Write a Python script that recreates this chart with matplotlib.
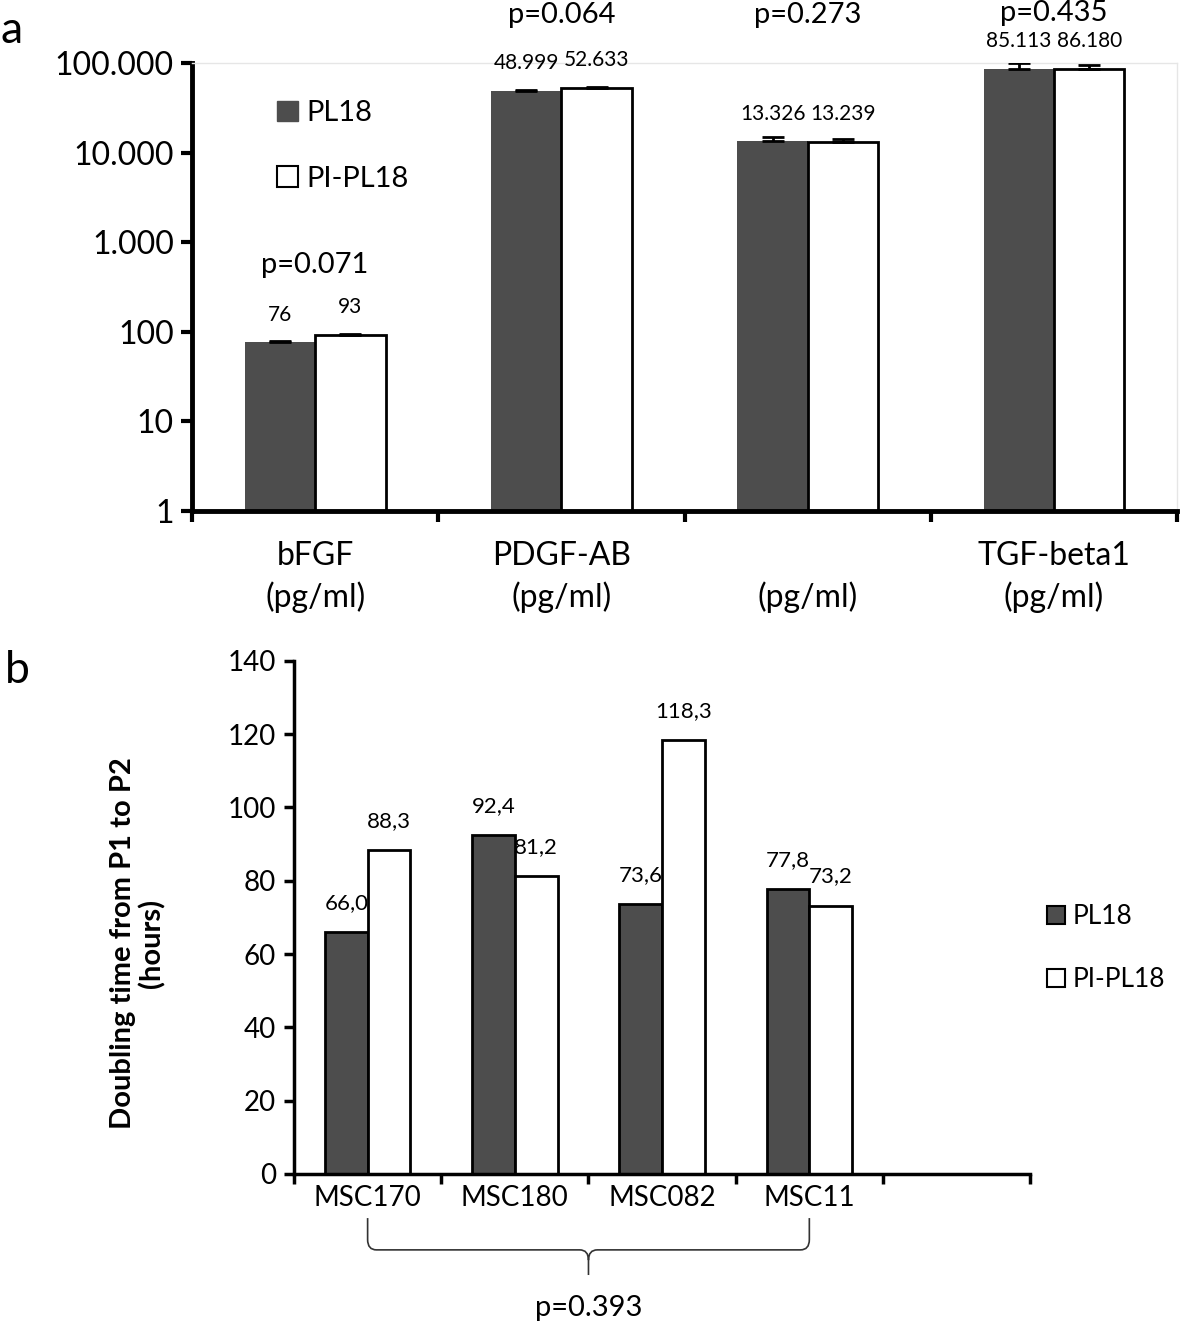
import matplotlib
matplotlib.use("Agg")
import matplotlib.pyplot as plt
from matplotlib.patches import Patch, PathPatch
from matplotlib.path import Path
import matplotlib.transforms as mtransforms
import numpy as np

plt.rcParams['font.family'] = ['Lato', 'DejaVu Sans']

# panel a data
factors = ["bFGF\n(pg/ml)", "PDGF-AB\n(pg/ml)", "\n(pg/ml)", "TGF-beta1\n(pg/ml)"]
pl18 = [76, 48999, 13326, 85113]
pipl18 = [93, 52633, 13239, 86180]
pl18_err = [3, 1500, 1500, 15000]
pipl18_err = [2, 1000, 900, 8000]
pl18_lbl = ["76", "48.999", "13.326", "85.113"]
pipl18_lbl = ["93", "52.633", "13.239", "86.180"]
pvals_a = ["p=0.071", "p=0.064", "p=0.273", "p=0.435"]
pval_a_y = [560, 340000, 340000, 360000]
ytick_a = [1, 10, 100, 1000, 10000, 100000]
ytick_a_lbl = ["1", "10", "100", "1.000", "10.000", "100.000"]

# panel b data
cells = ["MSC170", "MSC180", "MSC082", "MSC11", ""]
dt_pl18 = [66.0, 92.4, 73.6, 77.8]
dt_pipl18 = [88.3, 81.2, 118.3, 73.2]
pval_b = "p=0.393"

dark = "#4d4d4d"

fig = plt.figure(figsize=(12, 13.25), dpi=100)

# ---- panel a ----
ax = fig.add_axes([0.16, 0.6143, 0.821, 0.3382])
w = 0.286
x = np.arange(len(factors))
ax.bar(x - w/2, pl18, w, color=dark, edgecolor=dark, linewidth=0, zorder=2)
ax.bar(x + w/2, pipl18, w, color="white", edgecolor="black", linewidth=2, zorder=2)
ax.errorbar(x - w/2, pl18, yerr=[np.zeros(4), pl18_err], fmt="none",
            ecolor="black", elinewidth=2, capsize=8, capthick=2, zorder=3)
ax.errorbar(x + w/2, pipl18, yerr=[np.zeros(4), pipl18_err], fmt="none",
            ecolor="black", elinewidth=2, capsize=8, capthick=2, zorder=3)
for i in range(len(factors)):
    ax.annotate(pl18_lbl[i], (x[i] - w/2, pl18[i]), xytext=(0, 20), textcoords="offset points",
                ha="center", va="center", fontsize=15, annotation_clip=False)
    ax.annotate(pipl18_lbl[i], (x[i] + w/2, pipl18[i]), xytext=(0, 20), textcoords="offset points",
                ha="center", va="center", fontsize=15, annotation_clip=False)
    ax.text(x[i], pval_a_y[i], pvals_a[i], ha="center", va="center", fontsize=21, clip_on=False)

ax.set_yscale("log")
ax.set_ylim(1, 100000)
ax.set_xlim(-0.5, len(factors) - 0.5)
ax.set_yticks(ytick_a)
ax.set_yticklabels(ytick_a_lbl, fontsize=23)
ax.yaxis.set_minor_locator(matplotlib.ticker.NullLocator())
ax.set_xticks(np.arange(len(factors) + 1) - 0.5)
ax.set_xticklabels([])
ax.tick_params(axis="both", direction="out", length=8, width=3)
ax.tick_params(axis="y", pad=5)
for i, f in enumerate(factors):
    ax.text(i, -0.148, f, transform=mtransforms.blended_transform_factory(ax.transData, ax.transAxes),
            ha="center", va="center", fontsize=23, linespacing=1.4)
ax.spines["left"].set_linewidth(3.5)
ax.spines["bottom"].set_linewidth(3.5)
ax.spines["top"].set_color("#e6e6e6")
ax.spines["right"].set_color("#e6e6e6")
ax.spines["top"].set_linewidth(1)
ax.spines["right"].set_linewidth(1)

ax.legend(handles=[Patch(facecolor=dark, edgecolor=dark, label="PL18"),
                   Patch(facecolor="white", edgecolor="black", linewidth=1.5, label="PI-PL18")],
          loc="upper left", bbox_to_anchor=(0.06, 0.975), frameon=False, fontsize=21,
          handlelength=0.7, handleheight=0.7, handletextpad=0.3, labelspacing=1.35)

fig.text(0.0, 0.977, "a", fontsize=32, ha="left", va="center")

# ---- panel b ----
bx = fig.add_axes([0.245, 0.114, 0.6135, 0.3872])
wb = 0.29
xb = np.arange(len(dt_pl18))
bx.bar(xb - wb/2, dt_pl18, wb, color=dark, edgecolor="black", linewidth=2, zorder=2)
bx.bar(xb + wb/2, dt_pipl18, wb, color="white", edgecolor="black", linewidth=2, zorder=2)
for i in range(len(dt_pl18)):
    bx.annotate(f"{dt_pl18[i]:.1f}".replace(".", ","), (xb[i] - wb/2, dt_pl18[i]), xytext=(0, 21),
                textcoords="offset points", ha="center", va="center", fontsize=16)
    bx.annotate(f"{dt_pipl18[i]:.1f}".replace(".", ","), (xb[i] + wb/2, dt_pipl18[i]), xytext=(0, 21),
                textcoords="offset points", ha="center", va="center", fontsize=16)
bx.set_ylim(0, 140)
bx.set_yticks(np.arange(0, 141, 20))
bx.set_xlim(-0.5, len(cells) - 0.5)
bx.set_xticks(np.arange(len(cells) + 1) - 0.5)
bx.set_xticklabels([])
for i, c in enumerate(cells):
    bx.text(i, -0.046, c, transform=mtransforms.blended_transform_factory(bx.transData, bx.transAxes),
            ha="center", va="center", fontsize=20)
bx.tick_params(axis="both", direction="out", length=7, width=2.5, labelsize=20)
bx.tick_params(axis="y", pad=6)
for s in ["top", "right"]:
    bx.spines[s].set_visible(False)
bx.spines["left"].set_linewidth(2.5)
bx.spines["bottom"].set_linewidth(2.5)
bx.set_ylabel("Doubling time from P1 to P2\n(hours)", fontsize=21, fontweight="bold", linespacing=1.1)
bx.yaxis.set_label_coords(-0.175, 0.45)

bx.legend(handles=[Patch(facecolor=dark, edgecolor="black", linewidth=1.5, label="PL18"),
                   Patch(facecolor="white", edgecolor="black", linewidth=1.5, label="PI-PL18")],
          loc="center left", bbox_to_anchor=(0.99, 0.44), frameon=False, fontsize=19,
          handlelength=0.7, handleheight=0.7, handletextpad=0.3, labelspacing=1.45)

# brace across the four cell lines
tb = mtransforms.blended_transform_factory(bx.transData, bx.transAxes)
y0, y1, y2 = -0.086, -0.148, -0.197
xl, xr = 0, 3
xm = (xl + xr) / 2
r = 0.06
ry = 0.02
verts = [(xl, y0), (xl, y1 + ry), (xl, y1), (xl + r, y1), (xm - r, y1), (xm, y1), (xm, y1 - ry),
         (xm, y2),
         (xm, y1 - ry), (xm, y1), (xm + r, y1), (xr - r, y1), (xr, y1), (xr, y1 + ry), (xr, y0)]
codes = [Path.MOVETO, Path.LINETO, Path.CURVE3, Path.CURVE3, Path.LINETO, Path.CURVE3, Path.CURVE3,
         Path.LINETO,
         Path.MOVETO, Path.CURVE3, Path.CURVE3, Path.LINETO, Path.CURVE3, Path.CURVE3, Path.LINETO]
bx.add_patch(PathPatch(Path(verts, codes), transform=tb, fill=False, edgecolor="#333333",
                       linewidth=1.2, clip_on=False))
bx.text(xm, -0.262, pval_b, transform=tb, ha="center", va="center", fontsize=21)

fig.text(0.004, 0.494, "b", fontsize=32, ha="left", va="center")

plt.savefig("out.png", dpi=100)
